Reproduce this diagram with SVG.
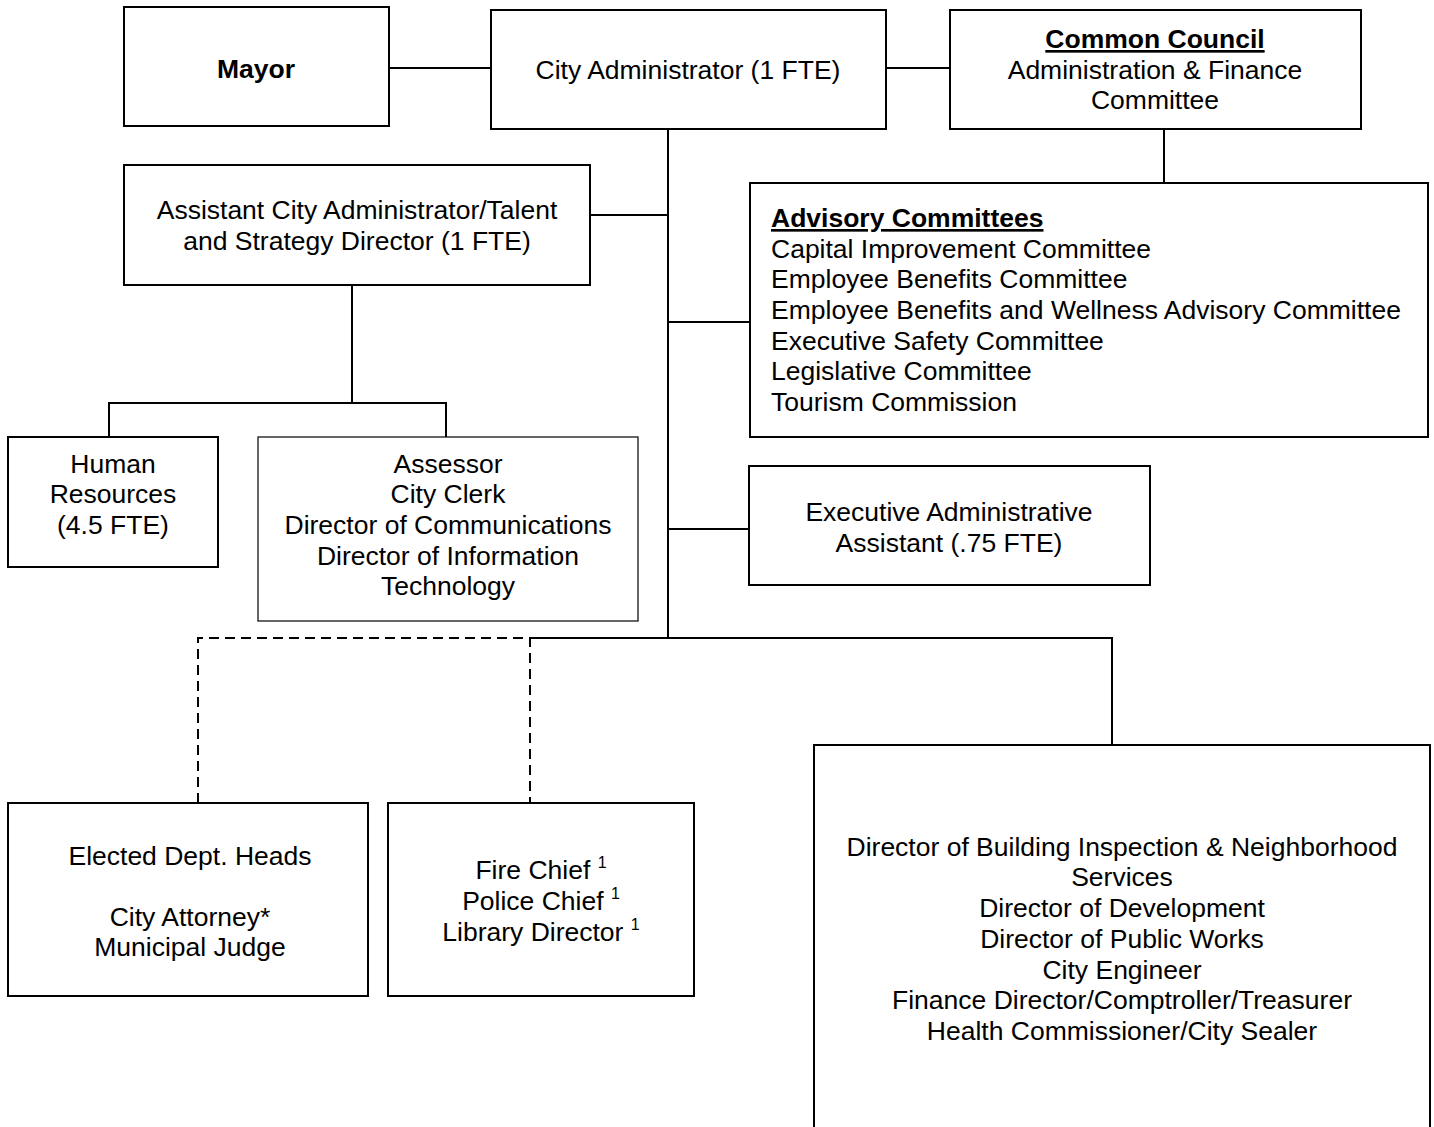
<svg xmlns="http://www.w3.org/2000/svg" width="1434" height="1127" viewBox="0 0 1434 1127">
<style>
.box{fill:#fff;stroke:#000;stroke-width:2}
.thin{fill:#fff;stroke:#000;stroke-width:1.2}
.ln{stroke:#000;stroke-width:2;fill:none}
.dash{stroke:#000;stroke-width:2;fill:none;stroke-dasharray:10,6}
text{font-family:"Liberation Sans",Arial,sans-serif;font-size:26.5px;fill:#000}
.c{text-anchor:middle}
.b{font-weight:bold}
.u{text-decoration:underline}
.sup{font-size:16px}
</style>
<rect width="1434" height="1127" fill="#fff"/>
<g id="connectors">
<line class="ln" x1="389" y1="68" x2="491" y2="68"/>
<line class="ln" x1="886" y1="68" x2="950" y2="68"/>
<line class="ln" x1="1164" y1="129" x2="1164" y2="183"/>
<line class="ln" x1="668" y1="129" x2="668" y2="639"/>
<line class="ln" x1="590" y1="215" x2="668" y2="215"/>
<line class="ln" x1="668" y1="322" x2="750" y2="322"/>
<line class="ln" x1="668" y1="529" x2="749" y2="529"/>
<line class="ln" x1="352" y1="285" x2="352" y2="403"/>
<polyline class="ln" points="109,437 109,403 446,403 446,437"/>
<polyline class="ln" points="530,638 1112,638 1112,745"/>
<polyline class="dash" points="198,803 198,638 530,638 530,803"/>
</g>
<g id="mayor">
<rect class="box" x="124" y="7" width="265" height="119"/>
<text class="c b" x="256" y="78">Mayor</text>
</g>
<g id="city-administrator">
<rect class="box" x="491" y="10" width="395" height="119"/>
<text class="c" x="688" y="79">City Administrator (1 FTE)</text>
</g>
<g id="common-council">
<rect class="box" x="950" y="10" width="411" height="119"/>
<text class="c b u" x="1155" y="48">Common Council</text>
<text class="c" x="1155" y="79">Administration &amp; Finance</text>
<text class="c" x="1155" y="109">Committee</text>
</g>
<g id="advisory-committees">
<rect class="box" x="750" y="183" width="678" height="254"/>
<text class="b u" x="771" y="227">Advisory Committees</text>
<text x="771" y="258">Capital Improvement Committee</text>
<text x="771" y="288">Employee Benefits Committee</text>
<text x="771" y="319">Employee Benefits and Wellness Advisory Committee</text>
<text x="771" y="350">Executive Safety Committee</text>
<text x="771" y="380">Legislative Committee</text>
<text x="771" y="411">Tourism Commission</text>
</g>
<g id="assistant-city-administrator">
<rect class="box" x="124" y="165" width="466" height="120"/>
<text class="c" x="357" y="219">Assistant City Administrator/Talent</text>
<text class="c" x="357" y="250">and Strategy Director (1 FTE)</text>
</g>
<g id="human-resources">
<rect class="box" x="8" y="437" width="210" height="130"/>
<text class="c" x="113" y="473">Human</text>
<text class="c" x="113" y="503">Resources</text>
<text class="c" x="113" y="534">(4.5 FTE)</text>
</g>
<g id="assessor-group">
<rect class="thin" x="258" y="437" width="380" height="184"/>
<text class="c" x="448" y="473">Assessor</text>
<text class="c" x="448" y="503">City Clerk</text>
<text class="c" x="448" y="534">Director of Communications</text>
<text class="c" x="448" y="565">Director of Information</text>
<text class="c" x="448" y="595">Technology</text>
</g>
<g id="executive-assistant">
<rect class="box" x="749" y="466" width="401" height="119"/>
<text class="c" x="949" y="521">Executive Administrative</text>
<text class="c" x="949" y="552">Assistant (.75 FTE)</text>
</g>
<g id="elected-heads">
<rect class="box" x="8" y="803" width="360" height="193"/>
<text class="c" x="190" y="865">Elected Dept. Heads</text>
<text class="c" x="190" y="926">City Attorney*</text>
<text class="c" x="190" y="956">Municipal Judge</text>
</g>
<g id="chiefs">
<rect class="box" x="388" y="803" width="306" height="193"/>
<text class="c" x="541" y="879">Fire Chief <tspan class="sup" dy="-11">1</tspan></text>
<text class="c" x="541" y="910">Police Chief <tspan class="sup" dy="-11">1</tspan></text>
<text class="c" x="541" y="941">Library Director <tspan class="sup" dy="-11">1</tspan></text>
</g>
<g id="directors">
<rect class="box" x="814" y="745" width="616" height="400"/>
<text class="c" x="1122" y="856">Director of Building Inspection &amp; Neighborhood</text>
<text class="c" x="1122" y="886">Services</text>
<text class="c" x="1122" y="917">Director of Development</text>
<text class="c" x="1122" y="948">Director of Public Works</text>
<text class="c" x="1122" y="979">City Engineer</text>
<text class="c" x="1122" y="1009">Finance Director/Comptroller/Treasurer</text>
<text class="c" x="1122" y="1040">Health Commissioner/City Sealer</text>
</g>
</svg>
